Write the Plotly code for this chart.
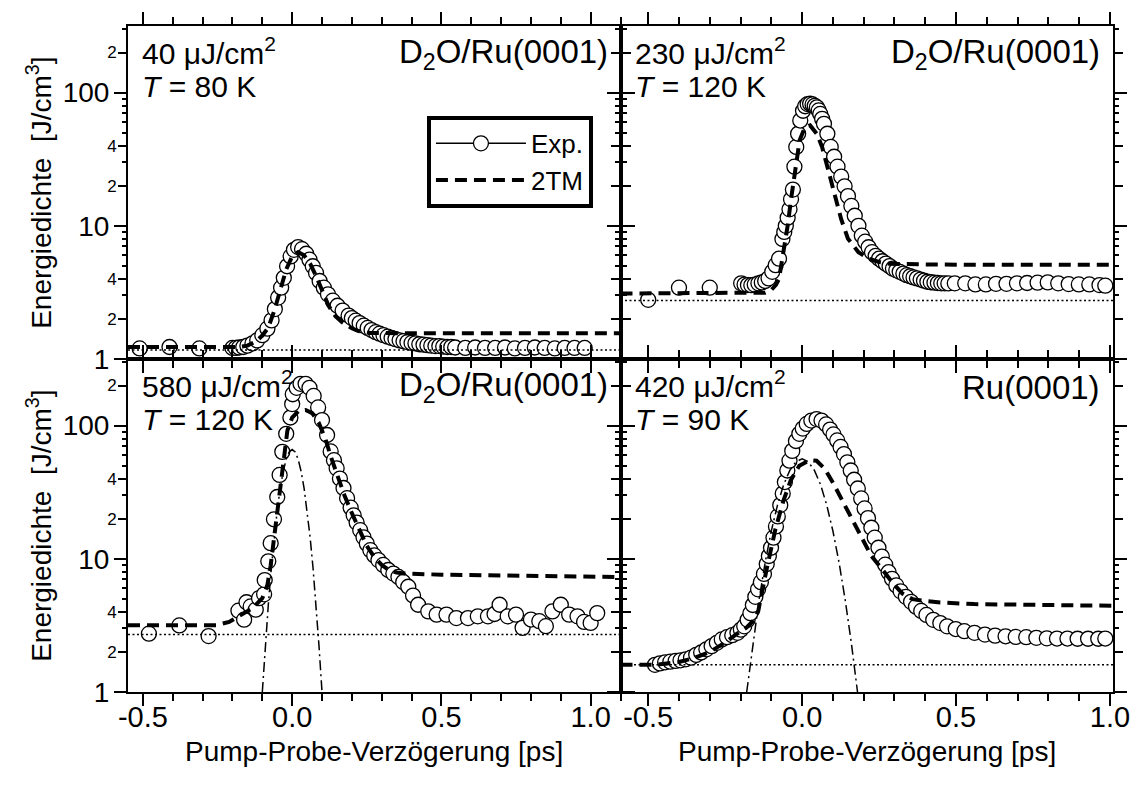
import plotly.graph_objects as go

FONT = "Liberation Sans, Arial, Helvetica, sans-serif"

# ---------------- data ----------------
# Panel 1: 40 uJ/cm2, T = 80 K, D2O/Ru(0001)
p1_exp_x = [-0.511, -0.411, -0.311, -0.200, -0.189, -0.178, -0.164, -0.150, -0.133, -0.117,
            -0.100, -0.083, -0.069, -0.058, -0.047, -0.037, -0.028, -0.017, -0.005, 0.006,
            0.020, 0.033, 0.047, 0.058, 0.069, 0.080, 0.092, 0.106, 0.120, 0.136,
            0.152, 0.169, 0.189, 0.200, 0.213, 0.226, 0.240, 0.253, 0.266, 0.280,
            0.293, 0.306, 0.320, 0.333, 0.346, 0.360, 0.373, 0.386, 0.400, 0.413,
            0.426, 0.440, 0.453, 0.466, 0.480, 0.493, 0.506, 0.520, 0.533, 0.546,
            0.580, 0.613, 0.646, 0.680, 0.713, 0.746, 0.780, 0.813, 0.846, 0.880,
            0.913, 0.946, 0.980]
p1_exp_y = [1.20, 1.23, 1.20, 1.21, 1.21, 1.22, 1.23, 1.26, 1.31, 1.38,
            1.51, 1.69, 1.95, 2.37, 2.89, 3.43, 4.07, 4.97, 5.89, 6.60,
            6.92, 6.68, 6.17, 5.57, 4.97, 4.43, 3.85, 3.43, 3.06, 2.74,
            2.51, 2.31, 2.12, 2.03, 1.94, 1.86, 1.78, 1.71, 1.65, 1.59,
            1.55, 1.51, 1.47, 1.44, 1.41, 1.38, 1.36, 1.34, 1.32, 1.31,
            1.29, 1.28, 1.27, 1.26, 1.25, 1.25, 1.24, 1.23, 1.23, 1.22,
            1.21, 1.22, 1.21, 1.21, 1.22, 1.20, 1.21, 1.22, 1.21, 1.20,
            1.21, 1.21, 1.21]
p1_tm_x = [-0.55, -0.18, -0.15, -0.12, -0.10, -0.08, -0.06, -0.04, -0.02, 0.00,
           0.02, 0.04, 0.06, 0.08, 0.10, 0.122, 0.145, 0.167, 0.20, 0.222,
           0.26, 0.30, 0.40, 0.70, 1.10]
p1_tm_y = [1.23, 1.23, 1.26, 1.36, 1.50, 1.72, 2.30, 3.30, 4.70, 5.90,
           6.35, 6.00, 5.20, 4.20, 3.30, 2.51, 2.10, 1.89, 1.70, 1.62,
           1.57, 1.56, 1.56, 1.56, 1.56]
p1_base = 1.17

# Panel 2: 230 uJ/cm2, T = 120 K, D2O/Ru(0001)
p2_exp_x = [-0.500, -0.400, -0.300, -0.198, -0.187, -0.176, -0.165, -0.154, -0.142, -0.131,
            -0.120, -0.109, -0.097, -0.086, -0.075, -0.064, -0.058, -0.053, -0.047, -0.041,
            -0.036, -0.030, -0.025, -0.019, -0.013, -0.006, 0.003, 0.010, 0.018, 0.026,
            0.034, 0.041, 0.048, 0.054, 0.059, 0.065, 0.071, 0.082, 0.093, 0.104,
            0.115, 0.127, 0.138, 0.149, 0.160, 0.171, 0.183, 0.194, 0.205, 0.216,
            0.227, 0.239, 0.250, 0.261, 0.272, 0.284, 0.295, 0.306, 0.317, 0.329,
            0.340, 0.351, 0.362, 0.373, 0.385, 0.396, 0.407, 0.418, 0.430, 0.441,
            0.452, 0.463, 0.475, 0.496, 0.530, 0.563, 0.597, 0.630, 0.664, 0.698,
            0.731, 0.765, 0.798, 0.832, 0.866, 0.899, 0.933, 0.966, 0.985]
p2_exp_y = [2.78, 3.43, 3.43, 3.70, 3.62, 3.59, 3.58, 3.62, 3.70, 3.76,
            3.85, 4.03, 4.51, 5.06, 5.66, 7.96, 9.0, 10.0, 11.5, 13.3,
            15.8, 18.7, 27.8, 39.1, 49.1, 61.7, 73.1, 79.0, 82.0, 82.5,
            81.5, 79.5, 77.5, 73.5, 69.2, 63.5, 58.3, 49.1, 39.1, 33.0,
            27.8, 23.4, 19.8, 16.7, 14.1, 11.9, 10.0, 8.43, 7.6, 6.9,
            6.34, 5.95, 5.66, 5.42, 5.20, 4.98, 4.77, 4.63, 4.51, 4.38,
            4.26, 4.18, 4.10, 4.03, 3.95, 3.87, 3.80, 3.77, 3.74, 3.72,
            3.70, 3.70, 3.69, 3.70, 3.70, 3.63, 3.63, 3.67, 3.67, 3.70,
            3.72, 3.74, 3.76, 3.70, 3.65, 3.63, 3.63, 3.59, 3.55]
p2_tm_x = [-0.59, -0.15, -0.12, -0.10, -0.085, -0.075, -0.065, -0.058, -0.047, -0.036,
           -0.021, -0.008, 0.009, 0.026, 0.048, 0.065, 0.082, 0.104, 0.127, 0.149,
           0.183, 0.216, 0.250, 0.283, 0.340, 0.400, 0.600, 0.800, 1.010]
p2_tm_y = [3.1, 3.1, 3.15, 3.3, 3.6, 4.0, 5.5, 7.1, 10.0, 15.8,
           27.8, 43.9, 55.0, 56.7, 49.0, 39.0, 27.8, 17.7, 11.2, 8.0,
           6.34, 5.66, 5.35, 5.2, 5.15, 5.12, 5.1, 5.1, 5.1]
p2_base = 2.75

# Panel 3: 580 uJ/cm2, T = 120 K, D2O/Ru(0001)
p3_exp_x = [-0.480, -0.378, -0.280, -0.180, -0.161, -0.153, -0.139, -0.122, -0.111, -0.094,
            -0.092, -0.080, -0.072, -0.061, -0.050, -0.042, -0.033, -0.020, -0.006, 0.000,
            0.002, 0.015, 0.028, 0.045, 0.058, 0.072, 0.087, 0.100, 0.117, 0.129,
            0.140, 0.149, 0.160, 0.172, 0.184, 0.196, 0.206, 0.216, 0.228, 0.239,
            0.250, 0.262, 0.275, 0.289, 0.305, 0.322, 0.339, 0.356, 0.372, 0.389,
            0.405, 0.422, 0.456, 0.484, 0.517, 0.550, 0.589, 0.622, 0.656, 0.678,
            0.695, 0.722, 0.750, 0.772, 0.800, 0.828, 0.850, 0.872, 0.900, 0.928,
            0.956, 0.978, 1.000, 1.022]
p3_exp_y = [2.74, 3.16, 2.63, 4.08, 3.49, 4.72, 4.39, 4.15, 5.06, 5.41,
            6.92, 9.57, 13.1, 19.8, 29.1, 42.6, 63.5, 86.8, 115, 145,
            172, 192, 206, 206, 192, 167, 137, 110, 85, 64,
            55, 47.8, 40, 34, 28.5, 24.2, 21.2, 18.7, 16.4, 14.5,
            13.0, 11.6, 10.6, 9.78, 9.0, 8.24, 7.75, 7.31, 6.7, 6.17,
            5.3, 4.52, 4.03, 3.81, 3.81, 3.59, 3.59, 3.70, 3.70, 3.85,
            4.52, 3.70, 3.81, 3.03, 3.50, 3.40, 3.12, 4.03, 4.52, 3.81,
            3.70, 3.36, 3.30, 3.91]
p3_tm_x = [-0.55, -0.27, -0.255, -0.211, -0.178, -0.133, -0.100, -0.083, -0.072, -0.061,
           -0.050, -0.039, -0.028, -0.016, 0.000, 0.022, 0.045, 0.067, 0.089, 0.111,
           0.130, 0.150, 0.175, 0.200, 0.225, 0.250, 0.275, 0.300, 0.325, 0.350,
           0.375, 0.400, 0.500, 0.700, 0.900, 1.100]
p3_tm_y = [3.17, 3.17, 3.17, 3.36, 3.70, 4.26, 5.06, 6.35, 8.93, 14.1,
           23.5, 39.1, 61.7, 91.8, 115, 129, 131, 124, 105, 80,
           58, 43, 30, 22, 16.5, 12.5, 10.3, 9.0, 8.2, 7.9,
           7.75, 7.7, 7.6, 7.5, 7.4, 7.3]
p3_pulse_x = [-0.10, -0.09, -0.08, -0.07, -0.06, -0.05, -0.04, -0.03, -0.02, -0.01, 0.00,
              0.01, 0.02, 0.03, 0.04, 0.05, 0.06, 0.07, 0.08, 0.09, 0.10]
p3_pulse_y = [1.0, 2.2, 4.5, 8.5, 14.6, 23.2, 33.8, 45.3, 55.9, 63.4, 66.1,
              63.4, 55.9, 45.3, 33.8, 23.2, 14.6, 8.5, 4.5, 2.2, 1.0]
p3_base = 2.70

# Panel 4: 420 uJ/cm2, T = 90 K, Ru(0001)
p4_exp_x = [-0.478, -0.462, -0.445, -0.428, -0.411, -0.395, -0.378, -0.361, -0.344, -0.328,
            -0.311, -0.294, -0.277, -0.261, -0.244, -0.227, -0.210, -0.199, -0.188, -0.177,
            -0.168, -0.160, -0.152, -0.143, -0.134, -0.124, -0.115, -0.108, -0.101, -0.093,
            -0.085, -0.079, -0.071, -0.063, -0.056, -0.048, -0.041, -0.032, -0.020, -0.009,
            0.002, 0.015, 0.030, 0.047, 0.063, 0.078, 0.091, 0.102, 0.114, 0.125,
            0.136, 0.147, 0.158, 0.169, 0.181, 0.192, 0.203, 0.214, 0.225, 0.236,
            0.248, 0.259, 0.270, 0.281, 0.292, 0.306, 0.320, 0.337, 0.354, 0.370,
            0.387, 0.404, 0.426, 0.449, 0.471, 0.499, 0.527, 0.560, 0.594, 0.627,
            0.661, 0.694, 0.728, 0.761, 0.795, 0.828, 0.862, 0.895, 0.929, 0.962,
            0.985]
p4_exp_y = [1.60, 1.64, 1.67, 1.69, 1.71, 1.73, 1.76, 1.81, 1.90, 1.98,
            2.09, 2.21, 2.34, 2.48, 2.58, 2.67, 2.78, 2.94, 3.11, 3.48,
            3.90, 4.50, 5.18, 5.90, 6.68, 7.70, 9.14, 10.5, 12.1, 14.4,
            17.5, 20.8, 25.3, 30.9, 37.7, 46.0, 54.5, 64.6, 76.6, 86.8,
            95.0, 103, 109, 112, 109, 102, 93.4, 85.8, 77.4, 69.2,
            61.1, 53.0, 46.0, 39.2, 33.7, 28.4, 23.9, 20.2, 17.1, 14.4,
            12.1, 10.4, 9.03, 7.93, 7.08, 6.31, 5.70, 5.18, 4.75, 4.37,
            4.06, 3.79, 3.48, 3.29, 3.11, 2.97, 2.86, 2.78, 2.70, 2.65,
            2.62, 2.59, 2.58, 2.55, 2.53, 2.52, 2.52, 2.51, 2.51, 2.51,
            2.52]
p4_tm_x = [-0.59, -0.478, -0.40, -0.35, -0.30, -0.25, -0.21, -0.18, -0.16, -0.143,
           -0.115, -0.087, -0.060, -0.037, -0.009, 0.024, 0.047, 0.074, 0.102, 0.130,
           0.158, 0.192, 0.225, 0.259, 0.292, 0.326, 0.359, 0.404, 0.449, 0.560,
           0.672, 0.784, 1.01]
p4_tm_y = [1.60, 1.60, 1.68, 1.80, 2.0, 2.35, 2.75, 3.05, 3.4, 4.0,
           8.4, 16.6, 27.6, 38.8, 50, 55, 54.5, 47.3, 36.6, 27.6,
           20.8, 14.8, 10.5, 8.4, 6.68, 5.48, 4.98, 4.81, 4.70, 4.57,
           4.54, 4.50, 4.44]
p4_pulse_x = [-0.18, -0.16, -0.14, -0.12, -0.10, -0.08, -0.06, -0.04, -0.02, 0.00,
              0.02, 0.04, 0.06, 0.08, 0.10, 0.12, 0.14, 0.16, 0.18]
p4_pulse_y = [1.0, 2.33, 4.91, 9.38, 16.2, 25.3, 36.0, 46.1, 53.5, 56.2,
              53.5, 46.1, 36.0, 25.3, 16.2, 9.38, 4.91, 2.33, 1.0]
p4_base = 1.60

fluence_labels = ["40 μJ/cm<sup>2</sup>", "230 μJ/cm<sup>2</sup>",
                  "580 μJ/cm<sup>2</sup>", "420 μJ/cm<sup>2</sup>"]
temp_labels = ["<i>T</i> = 80 K", "<i>T</i> = 120 K", "<i>T</i> = 120 K", "<i>T</i> = 90 K"]
sample_labels = ["D<sub>2</sub>O/Ru(0001)", "D<sub>2</sub>O/Ru(0001)",
                 "D<sub>2</sub>O/Ru(0001)", "Ru(0001)"]

x_tick_vals = [-0.5, 0.0, 0.5, 1.0]
x_tick_text = ["-0.5", "0.0", "0.5", "1.0"]
x_minor_vals = [-0.6, -0.5, -0.4, -0.3, -0.2, -0.1, 0.0, 0.1, 0.2, 0.3, 0.4, 0.5,
                0.6, 0.7, 0.8, 0.9, 1.0, 1.1]
y_major_vals = [1, 10, 100]
y_major_text = ["1", "10", "100"]
y_mid_vals = [2, 4, 20, 40, 200]
y_mid_text = ["2", "4", "2", "4", "2"]
y_minor_vals = [3, 5, 6, 7, 8, 9, 30, 50, 60, 70, 80, 90, 300]

legend_names = ["Exp.", "2TM"]
x_title = "Pump-Probe-Verzögerung [ps]"
y_title = "Energiedichte\u00a0\u00a0[J/cm<sup>3</sup>]"

# ---------------- figure ----------------
fig = go.Figure()

panels = [
    dict(xa="x", ya="y", ov="y5", ex=p1_exp_x, ey=p1_exp_y, tx=p1_tm_x, ty=p1_tm_y,
         base=p1_base, px=None, py=None, xr=[-0.55, 1.1]),
    dict(xa="x2", ya="y2", ov="y6", ex=p2_exp_x, ey=p2_exp_y, tx=p2_tm_x, ty=p2_tm_y,
         base=p2_base, px=None, py=None, xr=[-0.59, 1.01]),
    dict(xa="x3", ya="y3", ov="y7", ex=p3_exp_x, ey=p3_exp_y, tx=p3_tm_x, ty=p3_tm_y,
         base=p3_base, px=p3_pulse_x, py=p3_pulse_y, xr=[-0.55, 1.1]),
    dict(xa="x4", ya="y4", ov="y8", ex=p4_exp_x, ey=p4_exp_y, tx=p4_tm_x, ty=p4_tm_y,
         base=p4_base, px=p4_pulse_x, py=p4_pulse_y, xr=[-0.59, 1.01]),
]

marker_style = dict(symbol="circle", size=15, color="white",
                    line=dict(color="black", width=1.3))
dash_style = dict(color="black", width=4, dash="12px,7px")
dot_style = dict(color="black", width=1.5, dash="2px,2.5px")
dashdot_style = dict(color="black", width=1.5, dash="10px,4px,2px,4px")

# legend entries
fig.add_trace(go.Scatter(x=[None], y=[None], xaxis="x", yaxis="y", mode="lines+markers",
                         name=legend_names[0], marker=marker_style,
                         line=dict(color="black", width=1.5), showlegend=True))
fig.add_trace(go.Scatter(x=[None], y=[None], xaxis="x", yaxis="y", mode="lines",
                         name=legend_names[1], line=dash_style, showlegend=True))

for p in panels:
    fig.add_trace(go.Scatter(x=p["ex"], y=p["ey"], xaxis=p["xa"], yaxis=p["ya"],
                             mode="markers", marker=marker_style, showlegend=False,
                             hoverinfo="skip"))
    fig.add_trace(go.Scatter(x=p["xr"], y=[p["base"], p["base"]], xaxis=p["xa"],
                             yaxis=p["ya"], mode="lines", line=dot_style,
                             showlegend=False, hoverinfo="skip"))
    fig.add_trace(go.Scatter(x=p["tx"], y=p["ty"], xaxis=p["xa"], yaxis=p["ya"],
                             mode="lines", line=dash_style, showlegend=False,
                             hoverinfo="skip"))
    if p["px"] is not None:
        fig.add_trace(go.Scatter(x=p["px"], y=p["py"], xaxis=p["xa"], yaxis=p["ya"],
                                 mode="lines", line=dashdot_style, showlegend=False,
                                 hoverinfo="skip"))
    # invisible trace to activate overlay axis
    fig.add_trace(go.Scatter(x=[None], y=[None], xaxis=p["xa"], yaxis=p["ov"],
                             mode="lines", showlegend=False, hoverinfo="skip"))

big = 28
small = 17

def xaxis_cfg(domain, anchor, rng, labels):
    return dict(domain=domain, anchor=anchor, range=rng, showgrid=False, zeroline=False,
                showline=True, linecolor="black", linewidth=2, mirror="ticks",
                ticks="outside", ticklen=12, tickwidth=2, tickcolor="black",
                tickmode="array", tickvals=x_tick_vals, ticktext=x_tick_text,
                showticklabels=labels, ticklabelstandoff=-14,
                tickfont=dict(family=FONT, size=29, color="black"),
                minor=dict(tickmode="array", tickvals=x_minor_vals, ticks="outside",
                           ticklen=7, tickwidth=1.5, tickcolor="black", showgrid=False))

def yaxis_cfg(domain, anchor, labels):
    return dict(domain=domain, anchor=anchor, type="log", range=[0, 2.5],
                showgrid=False, zeroline=False, showline=True, linecolor="black",
                linewidth=2, mirror="ticks", ticks="outside", ticklen=8, tickwidth=2,
                tickcolor="black", tickmode="array", tickvals=y_mid_vals,
                ticktext=y_mid_text, showticklabels=labels, ticklabelstandoff=-2,
                tickfont=dict(family=FONT, size=small, color="black"),
                minor=dict(tickmode="array", tickvals=y_minor_vals, ticks="outside",
                           ticklen=4, tickwidth=1.5, tickcolor="black", showgrid=False))

def yover_cfg(domain, anchor, over, labels):
    return dict(domain=domain, anchor=anchor, overlaying=over, type="log", range=[0, 2.5],
                showgrid=False, zeroline=False, showline=False, mirror="ticks",
                ticks="outside", ticklen=13, tickwidth=2, tickcolor="black",
                tickmode="array", tickvals=y_major_vals, ticktext=y_major_text,
                showticklabels=labels, ticklabelstandoff=-1,
                tickfont=dict(family=FONT, size=big, color="black"))

top = [0.5, 1.0]
bot = [0.0, 0.5]
left = [0.0, 0.5]
right = [0.5, 1.0]

fig.update_layout(
    width=1142, height=796, autosize=False,
    margin=dict(l=128, r=23, t=18, b=104, pad=0),
    paper_bgcolor="white", plot_bgcolor="white",
    font=dict(family=FONT, size=big, color="black"),
    xaxis=xaxis_cfg(left, "y", [-0.55, 1.1], False),
    xaxis2=xaxis_cfg(right, "y2", [-0.59, 1.01], False),
    xaxis3=xaxis_cfg(left, "y3", [-0.55, 1.1], True),
    xaxis4=xaxis_cfg(right, "y4", [-0.59, 1.01], True),
    yaxis=yaxis_cfg(top, "x", True),
    yaxis2=yaxis_cfg(top, "x2", False),
    yaxis3=yaxis_cfg(bot, "x3", True),
    yaxis4=yaxis_cfg(bot, "x4", False),
    yaxis5=yover_cfg(top, "x", "y", True),
    yaxis6=yover_cfg(top, "x2", "y2", False),
    yaxis7=yover_cfg(bot, "x3", "y3", True),
    yaxis8=yover_cfg(bot, "x4", "y4", False),
    showlegend=True,
    legend=dict(x=0.3035, y=0.865, xanchor="left", yanchor="top",
                bgcolor="white", bordercolor="black", borderwidth=4,
                font=dict(family=FONT, size=26, color="black"),
                itemwidth=90, tracegroupgap=0),
    hovermode=False,
)

annotations = []
refs = [("x", "y"), ("x2", "y2"), ("x3", "y3"), ("x4", "y4")]
for i, (xr, yr) in enumerate(refs):
    annotations.append(dict(text=fluence_labels[i], xref=f"{xr} domain", yref=f"{yr} domain",
                            x=0.025, y=0.925, xanchor="left", yanchor="middle",
                            showarrow=False, font=dict(family=FONT, size=30)))
    annotations.append(dict(text=temp_labels[i], xref=f"{xr} domain", yref=f"{yr} domain",
                            x=0.025, y=0.818, xanchor="left", yanchor="middle",
                            showarrow=False, font=dict(family=FONT, size=30)))
    annotations.append(dict(text=sample_labels[i], xref=f"{xr} domain", yref=f"{yr} domain",
                            x=0.978, y=0.915, xanchor="right", yanchor="middle",
                            showarrow=False, font=dict(family=FONT, size=33)))

for yr in ["y", "y3"]:
    annotations.append(dict(text=y_title, xref="paper", yref=f"{yr} domain",
                            x=-0.091, y=0.5, xanchor="center", yanchor="middle",
                            textangle=-90, showarrow=False,
                            font=dict(family=FONT, size=big)))
for xr in ["x3", "x4"]:
    annotations.append(dict(text=x_title, xref=f"{xr} domain", yref="paper",
                            x=0.5, y=-0.089, xanchor="center", yanchor="middle",
                            showarrow=False, font=dict(family=FONT, size=big)))

fig.update_layout(annotations=annotations)

fig.write_html("out.html", config={"displayModeBar": False},
               post_script="document.body.style.margin='0';document.body.style.padding='0';")
